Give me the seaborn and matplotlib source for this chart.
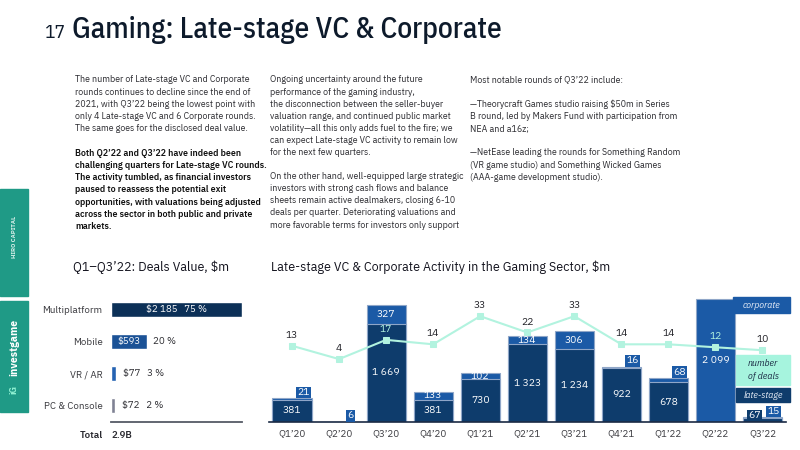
import numpy as np
import pandas as pd
import matplotlib
matplotlib.use('Agg')
import matplotlib.pyplot as plt
from matplotlib.patches import Rectangle
import seaborn as sns

# ---------------- data ----------------
quarters = ['Q1’20', 'Q2’20', 'Q3’20', 'Q4’20', 'Q1’21', 'Q2’21',
            'Q3’21', 'Q4’21', 'Q1’22', 'Q2’22', 'Q3’22']
late_stage = [381, 0, 1669, 381, 730, 1323, 1234, 922, 678, 0, 67]
corporate = [21, 6, 327, 133, 102, 134, 306, 16, 68, 2099, 15]
n_deals = [13, 4, 17, 14, 33, 22, 33, 14, 14, 12, 10]

platforms = ['Multiplatform', 'Mobile', 'VR / AR', 'PC & Console']
platform_value = [2185, 593, 77, 72]
platform_share = [75, 20, 3, 2]
total_label = '2.9B'

para1 = ['The number of Late-stage VC and Corporate',
         'rounds continues to decline since the end of',
         '2021, with Q3’22 being the lowest point with',
         'only 4 Late-stage VC and 6 Corporate rounds.',
         'The same goes for the disclosed deal value.']
para2 = ['Both Q2’22 and Q3’22 have indeed been',
         'challenging quarters for Late-stage VC rounds.',
         'The activity tumbled, as financial investors',
         'paused to reassess the potential exit',
         'opportunities, with valuations being adjusted',
         'across the sector in both public and private',
         'markets.']
para3 = ['Ongoing uncertainty around the future',
         'performance of the gaming industry,',
         'the disconnection between the seller-buyer',
         'valuation range, and continued public market',
         'volatility—all this only adds fuel to the fire; we',
         'can expect Late-stage VC activity to remain low',
         'for the next few quarters.']
para4 = ['On the other hand, well-equipped large strategic',
         'investors with strong cash flows and balance',
         'sheets remain active dealmakers, closing 6-10',
         'deals per quarter. Deteriorating valuations and',
         'more favorable terms for investors only support']
para5 = ['Most notable rounds of Q3’22 include:',
         '',
         '—Theorycraft Games studio raising $50m in Series',
         'B round, led by Makers Fund with participation from',
         'NEA and a16z;',
         '',
         '—NetEase leading the rounds for Something Random',
         '(VR game studio) and Something Wicked Games',
         '(AAA-game development studio).']

NAVY = '#0e3c6c'
CORP = '#1b5aa6'
MINT = '#b2f3df'
MINT_BOX = '#a6f4de'
EDGE = '#8fa6c8'
TXT = '#2b2b30'
TEAL = '#1f9a86'
PLEX = ['IBM Plex Sans Hebrew', 'IBM Plex Sans', 'DejaVu Sans']
COND = ['IBM Plex Sans Condensed', 'DejaVu Sans']

sns.set_style('white')
plt.rcParams['font.family'] = PLEX

W, H = 800, 450
fig = plt.figure(figsize=(8, 4.5), dpi=100)


def fx(x):
    return x / W


def fy(y):
    return 1 - y / H


# ---------------- header ----------------
fig.text(fx(45), fy(38), '17', fontsize=14, color='#0d1a2b', family=COND, va='baseline')
fig.text(fx(72), fy(38), 'Gaming: Late-stage VC & Corporate', fontsize=21.2,
         color='#0d1a2b', family=COND, fontweight='medium', va='baseline')


def put_lines(lines, x, y0, bold=False, step=12.15):
    for k, line in enumerate(lines):
        if line:
            fig.text(fx(x), fy(y0 + k * step), line, fontsize=6.4, color='#111' if bold else TXT,
                     fontweight='semibold' if bold else 'normal', va='center')


put_lines(para1, 75, 80)
put_lines(para2, 75, 153.5, bold=True)
put_lines(para3, 270, 80)
put_lines(para4, 270, 176.5)
put_lines(para5, 470, 80)

# side logos
fig.add_artist(Rectangle((fx(0), fy(296)), fx(28), (296 - 189) / H, transform=fig.transFigure,
                         color=TEAL, zorder=0))
fig.add_artist(Rectangle((fx(0), fy(412)), fx(28), (412 - 301) / H, transform=fig.transFigure,
                         color=TEAL, zorder=0))
fig.text(fx(14), fy(237), 'HIRO CAPITAL', rotation=90, fontsize=4.3, color='#d8efe9',
         fontweight='bold', ha='center', va='center')
fig.text(fx(14), fy(347), 'investgame', rotation=90, fontsize=7.6, color='white',
         fontweight='bold', ha='center', va='center')
fig.text(fx(14), fy(390), 'iG', rotation=90, fontsize=6.5, color='#8ff0d2',
         fontweight='bold', ha='center', va='center')

# ---------------- left chart: deals value ----------------
fig.text(fx(73), fy(267), 'Q1–Q3’22: Deals Value, $m', fontsize=9, color='#14141f', va='center')

axl = fig.add_axes([fx(111), fy(422), 131 / W, 129 / H])
sns.barplot(x=platform_value, y=platforms, hue=platforms, legend=False, orient='h',
            palette=['#0c3057', '#1b5296', '#2563b2', '#7f8294'], saturation=1,
            width=0.46, ax=axl)
axl.set_xlim(0, max(platform_value))
for i, (v, s) in enumerate(zip(platform_value, platform_share)):
    val = '$' + f'{v:,}'.replace(',', ' ')
    if v > 1000:
        axl.text(v / 2, i, f'{val}   {s} %', color='white', fontsize=7, ha='center', va='center')
    elif v > 300:
        axl.text(v / 2, i, val, color='white', fontsize=7, ha='center', va='center')
        axl.annotate(f'{s} %', (v, i), xytext=(5, 0), textcoords='offset points',
                     fontsize=7, color=TXT, va='center')
    else:
        axl.annotate(f'{val}   {s} %', (v, i), xytext=(5, 0), textcoords='offset points',
                     fontsize=7, color=TXT, va='center')
axl.set_xticks([])
axl.set_xlabel('')
axl.set_ylabel('')
axl.tick_params(axis='y', length=0, pad=6, labelsize=7, labelcolor='#3a3a3f')
for sp in ['top', 'right', 'left']:
    axl.spines[sp].set_visible(False)
axl.spines['bottom'].set_color('#555a66')
axl.spines['bottom'].set_linewidth(1.3)
fig.text(fx(103), fy(436), 'Total', fontsize=7, color='#2a2a30', fontweight='semibold',
         ha='right', va='center')
fig.text(fx(111), fy(436), total_label, fontsize=7, color='#2a2a30', fontweight='semibold',
         va='center')

# ---------------- right chart: activity ----------------
fig.text(fx(271), fy(267), 'Late-stage VC & Corporate Activity in the Gaming Sector, $m',
         fontsize=9, color='#14141f', va='center')

ax = fig.add_axes([fx(268.5), fy(422), (786 - 268.5) / W, 132 / H])
totals = [a + b for a, b in zip(late_stage, corporate)]
df = pd.DataFrame({'quarter': quarters, 'late': late_stage, 'corp': corporate, 'total': totals})
sns.barplot(data=df, x='quarter', y='total', color=CORP, saturation=1, width=0.83,
            edgecolor=EDGE, linewidth=0.8, ax=ax)
sns.barplot(data=df, x='quarter', y='late', color=NAVY, saturation=1, width=0.83,
            edgecolor=EDGE, linewidth=0.8, ax=ax)

fmt = lambda v: f'{v:,}'.replace(',', ' ')
for i, (l, c, t) in enumerate(zip(late_stage, corporate, totals)):
    if l >= 300:
        ax.text(i, l / 2, fmt(l), color='white', fontsize=7.5, ha='center', va='center')
    elif l > 0:
        ax.annotate(fmt(l), (i - 0.17, 0), xytext=(0, 1.5), textcoords='offset points',
                    color='white', fontsize=7.5, ha='center', va='bottom',
                    bbox=dict(boxstyle='square,pad=0.12', fc=NAVY, ec='none'))
    if c >= 100:
        ax.text(i, l + c / 2, fmt(c), color='white', fontsize=7.5, ha='center', va='center')
    else:
        ax.annotate(fmt(c), (i + 0.24, t), xytext=(0, 1), textcoords='offset points',
                    color='white', fontsize=7.5, ha='center', va='bottom',
                    bbox=dict(boxstyle='square,pad=0.12', fc=CORP, ec='none'))

ax.set_xlabel('')
ax.set_ylabel('')
ax.set_yticks([])
ax.tick_params(axis='x', length=0, pad=5, labelsize=7, labelcolor='#3a3a3f')
for sp in ['top', 'right', 'left']:
    ax.spines[sp].set_visible(False)
ax.spines['bottom'].set_color('#1a2a44')
ax.spines['bottom'].set_linewidth(1.2)

ax2 = ax.twinx()
sns.lineplot(x=np.arange(len(n_deals)), y=n_deals, color=MINT, lw=1.5, marker='s',
             markersize=4, markeredgecolor=MINT, ax=ax2)
ax2.set_ylim(-38.5, 50.7)
ax2.set_yticks([])
ax2.set_ylabel('')
for sp in ax2.spines.values():
    sp.set_visible(False)
for i, d in enumerate(n_deals):
    col = MINT if i in (2, 9) else '#222228'
    ax2.annotate(str(d), (i, d), xytext=(0, 7.5), textcoords='offset points',
                 ha='center', va='center', fontsize=7.5, color=col)
ax.set_xlim(-0.5, len(quarters) - 0.5)
ax.set_ylim(0, 132 * 17)

# legend boxes
def legend_box(x0, x1, y0, y1, fc, label, tc):
    fig.add_artist(Rectangle((fx(x0), fy(y1)), (x1 - x0) / W, (y1 - y0) / H,
                             transform=fig.transFigure, color=fc, zorder=5))
    fig.text(fx((x0 + x1) / 2), fy((y0 + y1) / 2), label, fontsize=7, color=tc,
             family=['IBM Plex Sans Condensed', 'IBM Plex Sans Hebrew', 'DejaVu Sans'],
             style='italic', ha='center', va='center', zorder=6, linespacing=1.45)


legend_box(733, 790, 297, 313, CORP, 'corporate', '#e8eef8')
legend_box(736, 790, 355, 385, MINT_BOX, 'number\nof deals', '#1a2a44')
legend_box(736, 790, 388, 402, NAVY, 'late-stage', '#e8eef8')

fig.savefig('out.png', dpi=100)
